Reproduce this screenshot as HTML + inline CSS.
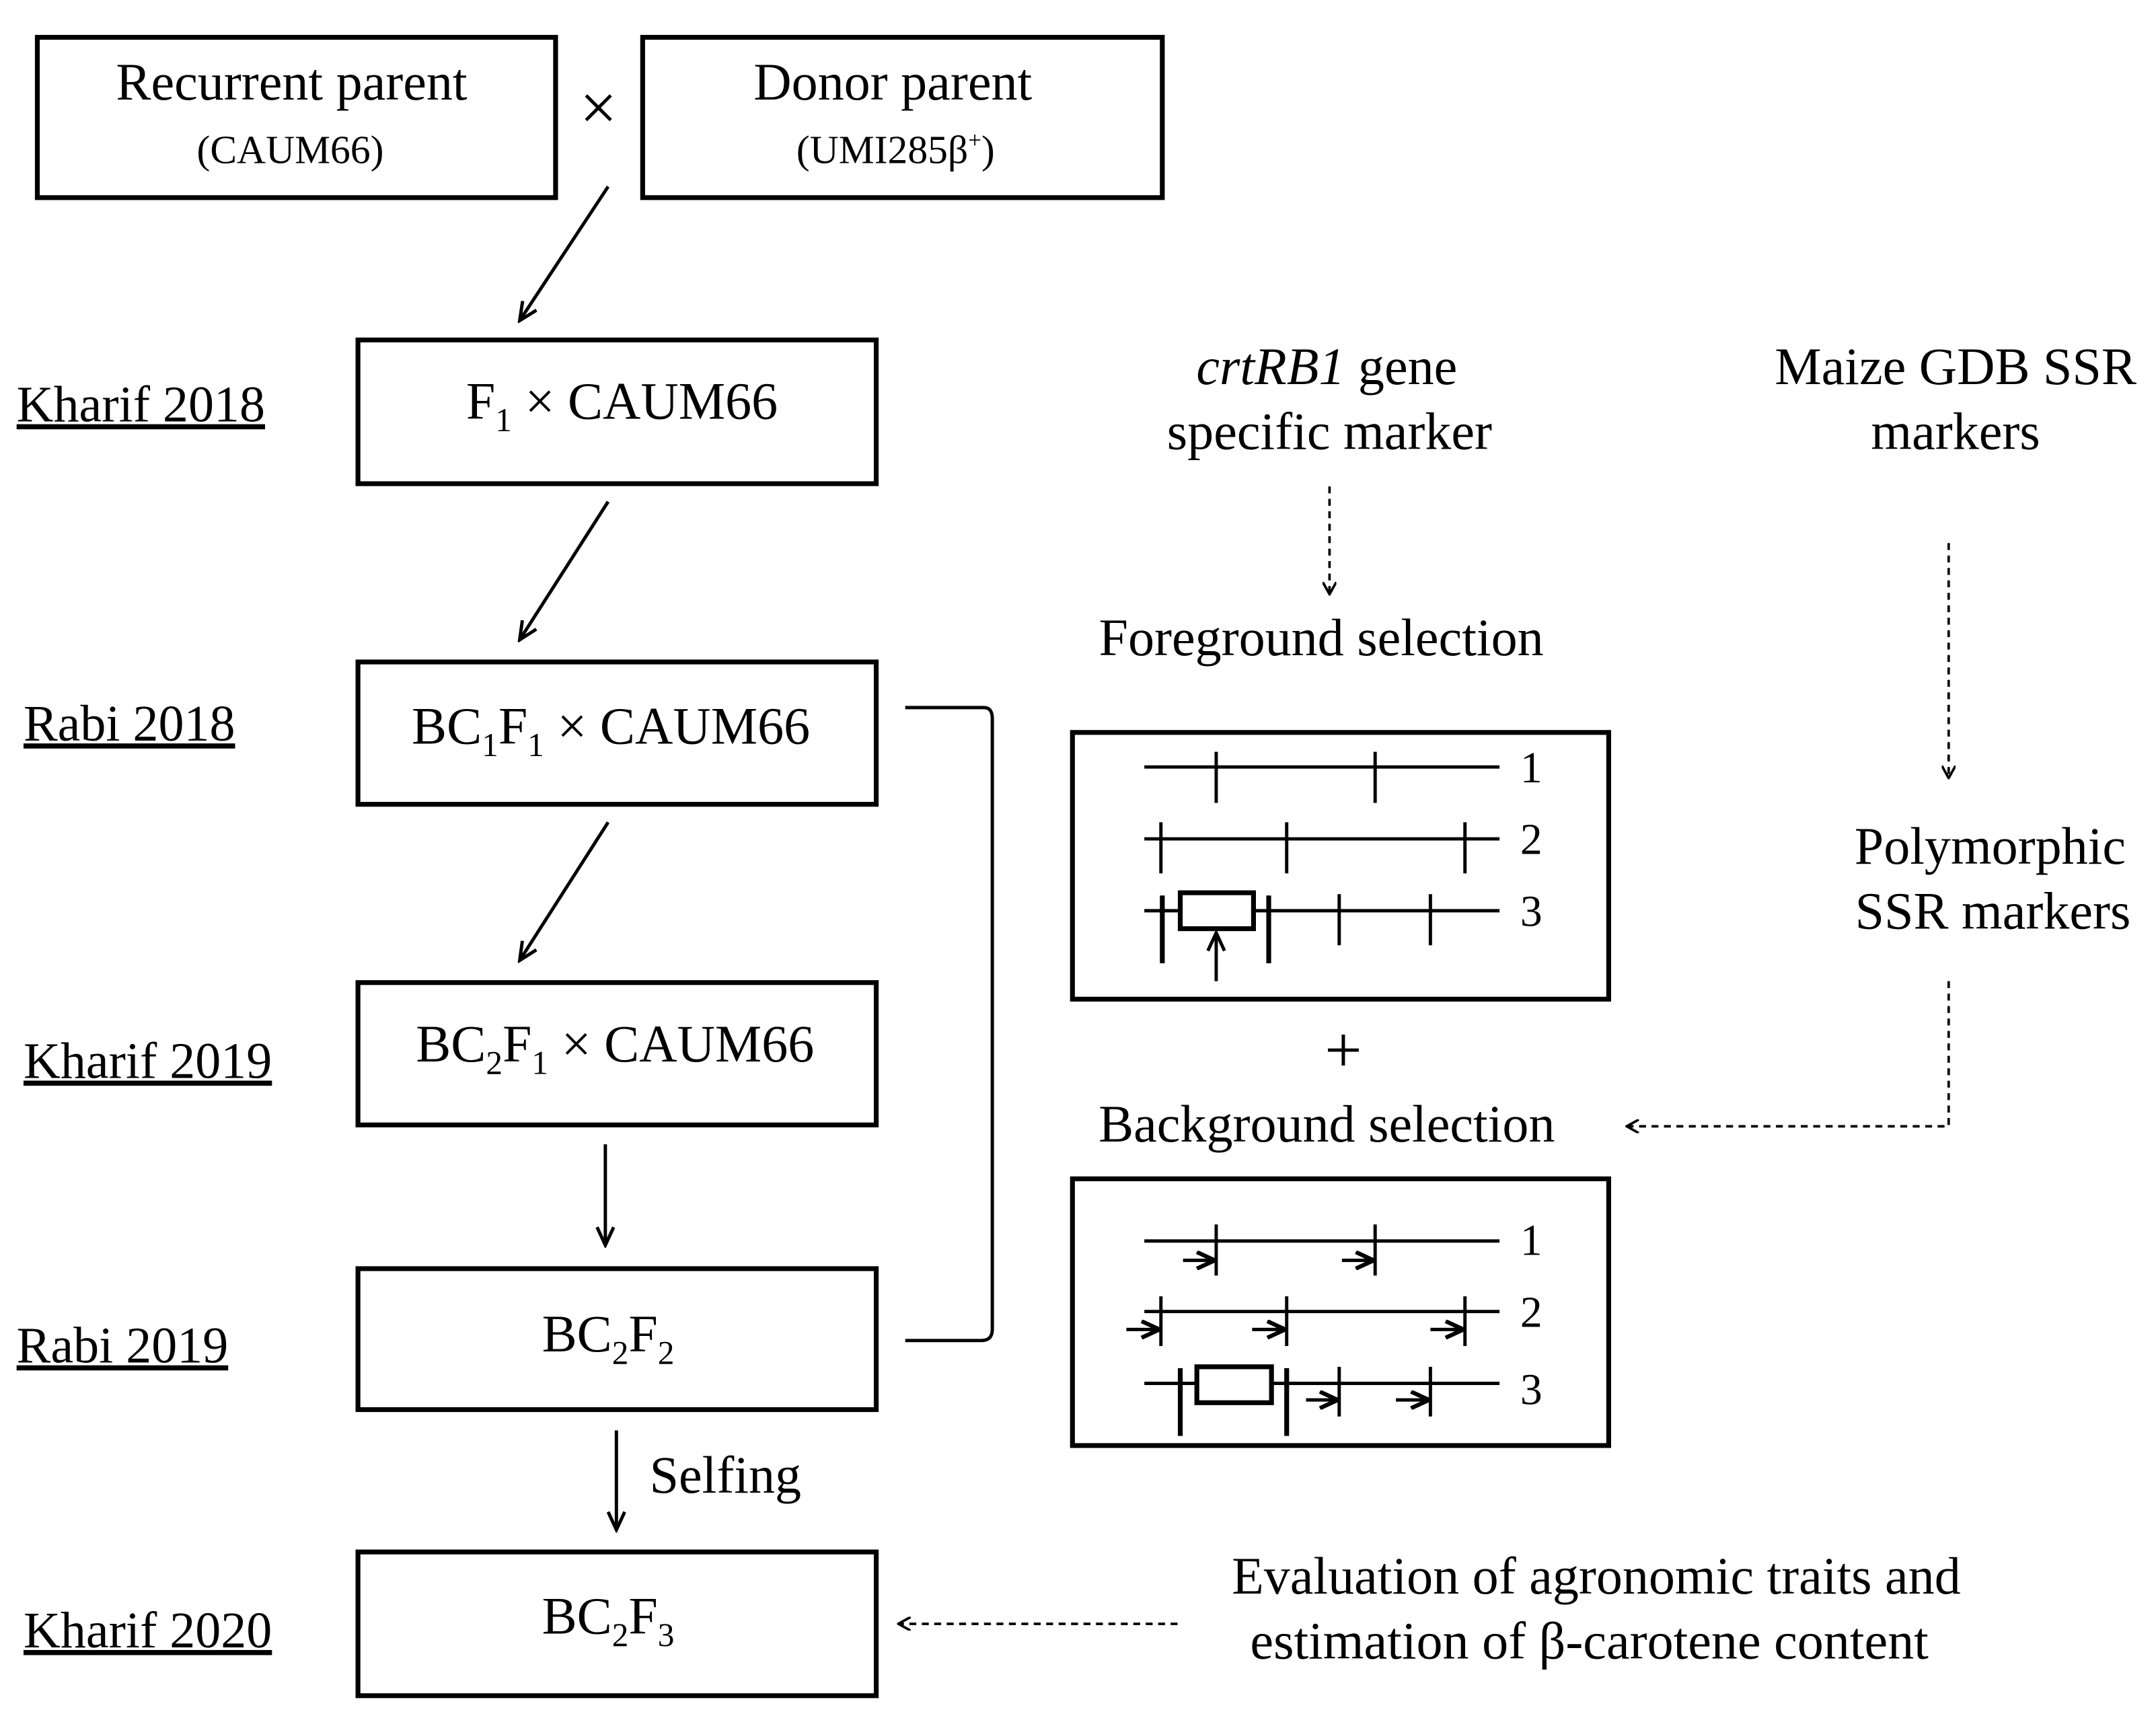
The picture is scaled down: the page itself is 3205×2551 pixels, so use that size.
<!DOCTYPE html>
<html><head><meta charset="utf-8"><style>
html,body{margin:0;padding:0;background:#fff;}
svg{display:block;}
text{font-family:"Liberation Serif",serif;fill:#000;}
</style></head><body>
<svg width="3205" height="2551" viewBox="0 0 1560 1241.7" xmlns="http://www.w3.org/2000/svg">
<defs>
<marker id="a" markerWidth="10" markerHeight="10" refX="9" refY="5" orient="auto" markerUnits="userSpaceOnUse"><path d="M0,0 L9,5 L0,10" fill="none" stroke="#000" stroke-width="1.8"/></marker>
<marker id="b" markerWidth="16" markerHeight="14" refX="14" refY="7" orient="auto" markerUnits="userSpaceOnUse"><path d="M1,1 L14,7 L1,13" fill="none" stroke="#000" stroke-width="2.4"/></marker>
<marker id="c" markerWidth="16" markerHeight="14" refX="14" refY="7" orient="auto" markerUnits="userSpaceOnUse"><path d="M1,1 L14,7 L1,13" fill="none" stroke="#000" stroke-width="3"/></marker>
</defs>
<g fill="none" stroke="#000" stroke-width="3.5">
<rect x="27" y="27" width="375" height="116"/>
<rect x="465" y="27" width="376" height="116"/>
<rect x="259" y="246" width="375" height="104"/>
<rect x="259" y="479" width="375" height="103"/>
<rect x="259" y="711" width="375" height="103"/>
<rect x="259" y="918" width="375" height="102"/>
<rect x="259" y="1123" width="375" height="104"/>
<rect x="776" y="530" width="388" height="193"/>
<rect x="776" y="853" width="388" height="193"/>
</g>
<g stroke="#000" stroke-width="2.4" fill="none">
<line x1="440" y1="135" x2="376" y2="232" marker-end="url(#b)"/>
<line x1="440" y1="363" x2="376" y2="463" marker-end="url(#b)"/>
<line x1="440" y1="595" x2="376" y2="695" marker-end="url(#b)"/>
<line x1="438" y1="828" x2="438" y2="901" marker-end="url(#b)"/>
<line x1="446" y1="1035" x2="446" y2="1107" marker-end="url(#b)"/>
<path d="M655,512 H712 Q718,512 718,520 V962 Q718,970 710,970 H655"/>
</g>
<g stroke="#000" stroke-width="1.8" fill="none" stroke-dasharray="5,4">
<line x1="852" y1="1175" x2="650" y2="1175" marker-end="url(#a)"/>
<line x1="962" y1="352" x2="962" y2="430" marker-end="url(#a)"/>
<line x1="1410" y1="393" x2="1410" y2="563" marker-end="url(#a)"/>
<path d="M1410,710 V815 H1177" marker-end="url(#a)"/>
</g>
<g stroke="#000" stroke-width="2.4" fill="none">
<line x1="828" y1="555" x2="1085" y2="555"/>
<line x1="880" y1="544" x2="880" y2="581"/><line x1="995" y1="544" x2="995" y2="581"/>
<line x1="828" y1="607" x2="1085" y2="607"/>
<line x1="840" y1="595" x2="840" y2="632"/><line x1="931" y1="595" x2="931" y2="632"/><line x1="1060" y1="595" x2="1060" y2="632"/>
<line x1="828" y1="659" x2="1085" y2="659"/>
<line x1="841" y1="648" x2="841" y2="697" stroke-width="3.5"/>
<rect x="854" y="646" width="53" height="26" fill="#fff" stroke-width="3.5"/>
<line x1="918" y1="648" x2="918" y2="697" stroke-width="3.5"/>
<line x1="969" y1="647" x2="969" y2="684"/><line x1="1035" y1="647" x2="1035" y2="684"/>
<line x1="880" y1="710" x2="880" y2="675" marker-end="url(#b)"/>
</g>
<g stroke="#000" stroke-width="2.4" fill="none">
<line x1="828" y1="898" x2="1085" y2="898"/>
<line x1="880" y1="886" x2="880" y2="923"/><line x1="995" y1="886" x2="995" y2="923"/>
<line x1="856" y1="912" x2="879" y2="912" marker-end="url(#c)"/>
<line x1="971" y1="912" x2="994" y2="912" marker-end="url(#c)"/>
<line x1="828" y1="949" x2="1085" y2="949"/>
<line x1="840" y1="938" x2="840" y2="974"/><line x1="931" y1="938" x2="931" y2="974"/><line x1="1060" y1="938" x2="1060" y2="974"/>
<line x1="815" y1="962" x2="839" y2="962" marker-end="url(#c)"/>
<line x1="906" y1="962" x2="930" y2="962" marker-end="url(#c)"/>
<line x1="1035" y1="962" x2="1059" y2="962" marker-end="url(#c)"/>
<line x1="828" y1="1001" x2="1085" y2="1001"/>
<line x1="854" y1="990" x2="854" y2="1039" stroke-width="3.5"/>
<rect x="866" y="989" width="54" height="26" fill="#fff" stroke-width="3.5"/>
<line x1="931" y1="990" x2="931" y2="1039" stroke-width="3.5"/>
<line x1="969" y1="989" x2="969" y2="1025"/><line x1="1035" y1="989" x2="1035" y2="1025"/>
<line x1="945" y1="1013" x2="968" y2="1013" marker-end="url(#c)"/>
<line x1="1010" y1="1013" x2="1034" y2="1013" marker-end="url(#c)"/>
</g>
<g font-size="32">
<text x="1100" y="566">1</text><text x="1100" y="618">2</text><text x="1100" y="670">3</text>
<text x="1100" y="908">1</text><text x="1100" y="960">2</text><text x="1100" y="1016">3</text>
</g>
<g font-size="38" text-anchor="middle">
<text x="211" y="72">Recurrent parent</text>
<text x="646" y="72">Donor parent</text>
<text x="450" y="303">F<tspan font-size="24" dy="9">1</tspan><tspan dy="-9"> × CAUM66</tspan></text>
<text x="442" y="538">BC<tspan font-size="24" dy="9">1</tspan><tspan dy="-9">F</tspan><tspan font-size="24" dy="9">1</tspan><tspan dy="-9"> × CAUM66</tspan></text>
<text x="445" y="768">BC<tspan font-size="24" dy="9">2</tspan><tspan dy="-9">F</tspan><tspan font-size="24" dy="9">1</tspan><tspan dy="-9"> × CAUM66</tspan></text>
<text x="440" y="978">BC<tspan font-size="24" dy="9">2</tspan><tspan dy="-9">F</tspan><tspan font-size="24" dy="9">2</tspan></text>
<text x="440" y="1182">BC<tspan font-size="24" dy="9">2</tspan><tspan dy="-9">F</tspan><tspan font-size="24" dy="9">3</tspan></text>
<text x="960" y="278"><tspan font-style="italic">crtRB1</tspan> gene</text>
<text x="962" y="325">specific marker</text>
<text x="956" y="474">Foreground selection</text>
<text x="1415" y="278">Maize GDB SSR</text>
<text x="1415" y="325">markers</text>
<text x="1440" y="625">Polymorphic</text>
<text x="1442" y="672">SSR markers</text>
<text x="960" y="826">Background selection</text>
<text x="1155" y="1153">Evaluation of agronomic traits and</text>
<text x="1150" y="1200">estimation of β-carotene content</text>
</g>
<g font-size="29" text-anchor="middle">
<text x="210" y="118">(CAUM66)</text>
<text x="648" y="118">(UMI285β<tspan font-size="17" dy="-11">+</tspan><tspan dy="11">)</tspan></text>
</g>
<text x="433" y="94" font-size="48" text-anchor="middle" font-family="Liberation Sans">×</text>
<text x="972" y="776" font-size="48" text-anchor="middle">+</text>
<text x="470" y="1080" font-size="38">Selfing</text>
<g font-size="37" text-decoration="underline">
<text x="12" y="305">Kharif 2018</text>
<text x="17" y="536">Rabi 2018</text>
<text x="17" y="780">Kharif 2019</text>
<text x="12" y="986">Rabi 2019</text>
<text x="17" y="1192">Kharif 2020</text>
</g>
</svg>
</body></html>
